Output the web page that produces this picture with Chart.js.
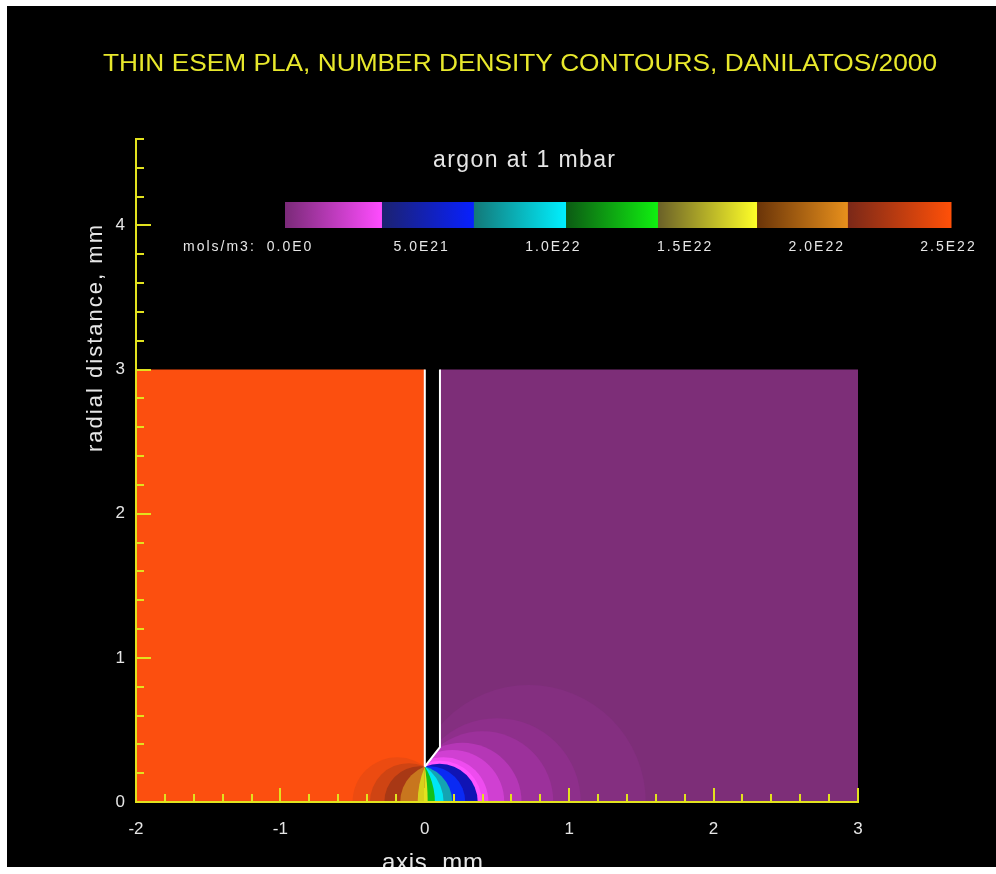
<!DOCTYPE html>
<html>

<head>
	<meta charset="UTF-8">
	<title>Thin ESEM PLA, number density contours</title>
	<script src="https://cdn.jsdelivr.net/npm/chart.js"></script>
	<style>
		body {
			margin: 0;
			background: #ffffff;
		}

		#chartContainer {
			position: absolute;
			left: 7px;
			top: 6px;
			width: 989px;
			height: 861px;
			background: #000000;
		}

		canvas {
			display: block;
		}
	</style>
</head>

<body>
	<div id="chartContainer">
		<canvas id="myChart" width="989" height="861"></canvas>
	</div>
	<script>
		// ---- texts ----
		const titleText = 'THIN ESEM PLA, NUMBER DENSITY CONTOURS, DANILATOS/2000';
		const subtitleText = 'argon at 1 mbar';
		const xTitle = 'axis, mm';
		const yTitle = 'radial distance, mm';

		// ---- axes (mm) ----
		const xMin = -2, xMax = 3;
		const yMin = 0, yMax = 4.6;

		// ---- geometry of the aperture (mm) ----
		const leftBlockX = [-2, 0];        // high pressure side
		const rightBlockX = [0.105, 3];    // low pressure side
		const blockTop = 3;
		const lipX = [0, 0.105];           // chamfer under the wall
		const lipY = [0.245, 0.38];
		const wallLeftX = [0, 0];
		const wallLeftY = [3, 0.245];
		const wallRightX = [0.105, 0.105, 0];
		const wallRightY = [3, 0.38, 0.245];

		// ---- contour arcs: centre on the axis and radius (mm), outer first ----
		const rightCx = [0.72, 0.50, 0.40, 0.26, 0.19, 0.13, 0.11, 0.102, 0.033, -0.063, -0.166, -0.394, -1.49];
		const rightR = [0.81, 0.58, 0.49, 0.41, 0.36, 0.31, 0.285, 0.2645, 0.247, 0.253, 0.296, 0.464, 1.51];
		const rightColors = ['#842f80', '#8e2f8b', '#9c319b', '#b537b6', '#d040d2', '#ee4cef', '#ff55ff',
			'#1014b4', '#0a2af4', '#14a4b2', '#00e6f4', '#12c01a', '#e4e020'];

		const leftCx = [-0.19, -0.111, -0.033, 0.0915, 0.575];
		const leftR = [0.31, 0.269, 0.247, 0.2617, 0.6244];
		const leftColors = ['#ec4b11', '#cf4413', '#a83815', '#c8761e', '#d8d01c'];

		const orange = '#fc4f0f';
		const purple = '#7d2e78';

		// ---- colour bar ----
		const cbUnit = 'mols/m3:';
		const cbTickValues = [0, 5e21, 1e22, 1.5e22, 2e22, 2.5e22];
		const cbTickLabels = ['0.0E0', '5.0E21', '1.0E22', '1.5E22', '2.0E22', '2.5E22'];
		const cbEdges = [0, 3.64e21, 7.09e21, 1.055e22, 1.40e22, 1.772e22, 2.113e22, 2.5e22];
		const cbDark = ['#7a2a78', '#1c2270', '#137878', '#0c5a14', '#6a6028', '#6a3408', '#7a2818'];
		const cbBright = ['#ff4cff', '#0820ff', '#00f0ff', '#10f010', '#ffff28', '#e8901c', '#ff5008'];

		const FONT = '"Liberation Sans", Arial, sans-serif';
		const axisYellow = '#e2e21e';
		const textWhite = '#e6e6e6';

		function pts(xs, ys) {
			return xs.map((x, i) => ({ x: x, y: ys[i] }));
		}

		// radius in mm -> pixels through the x scale
		function mmRadius(c) {
			if (!c.raw) return 0;
			const sx = c.chart.scales.x;
			const r = Math.abs(sx.getPixelForValue(c.raw.rad) - sx.getPixelForValue(0));
			return isFinite(r) ? r : 0;
		}

		function contour(cx, r, color, side) {
			return {
				type: 'scatter',
				data: [{ x: cx, y: 0, rad: r }],
				showLine: false,
				pointStyle: 'circle',
				pointRadius: mmRadius,
				pointBackgroundColor: color,
				pointBorderColor: 'transparent',
				pointBorderWidth: 0,
				clip: 0,
				side: side
			};
		}

		function area(data, color, fill) {
			return {
				type: 'line',
				data: data,
				backgroundColor: color,
				borderColor: 'transparent',
				borderWidth: 0,
				pointRadius: 0,
				fill: fill
			};
		}

		function wall(data) {
			return {
				type: 'line',
				data: data,
				borderColor: '#ffffff',
				borderWidth: 2,
				pointRadius: 0,
				fill: false
			};
		}

		// in drawing sequence
		const seq = [];
		seq.push(area(pts(leftBlockX, [blockTop, blockTop]), orange, 'origin'));
		seq.push(area(pts(rightBlockX, [blockTop, blockTop]), purple, 'origin'));
		seq.push(area(pts(lipX, lipY), purple, 'origin'));
		rightCx.forEach((cx, i) => seq.push(contour(cx, rightR[i], rightColors[i], 'right')));
		leftCx.forEach((cx, i) => seq.push(contour(cx, leftR[i], leftColors[i], 'left')));
		seq.push(area(pts(lipX, lipY), '#000000', 'end'));
		seq.push(wall(pts(wallLeftX, wallLeftY)));
		seq.push(wall(pts(wallRightX, wallRightY)));
		seq.forEach((d, i) => { d.order = seq.length - i; });

		// clip contour discs to one side of the aperture plane
		const sideClip = {
			id: 'sideClip',
			beforeDatasetDraw(chart, args) {
				const side = chart.data.datasets[args.index].side;
				if (!side) return;
				const { ctx, chartArea } = chart;
				const x0 = chart.scales.x.getPixelForValue(0);
				ctx.save();
				ctx.beginPath();
				if (side === 'right') {
					ctx.rect(x0, chartArea.top, chartArea.right - x0, chartArea.bottom - chartArea.top);
				} else {
					ctx.rect(chartArea.left, chartArea.top, x0 - chartArea.left, chartArea.bottom - chartArea.top);
				}
				ctx.clip();
			},
			afterDatasetDraw(chart, args) {
				if (chart.data.datasets[args.index].side) chart.ctx.restore();
			}
		};

		// text fitted to a given width, either by letter spacing or by squeezing
		function fitText(ctx, text, left, baseline, font, width, color, squeeze) {
			ctx.save();
			ctx.font = font;
			ctx.letterSpacing = '0px';
			const natural = ctx.measureText(text).width;
			ctx.translate(left, baseline);
			if (squeeze) {
				ctx.scale(width / natural, 1);
			} else if (width && text.length > 1) {
				ctx.letterSpacing = ((width - natural) / (text.length - 1)) + 'px';
			}
			ctx.fillStyle = color;
			ctx.textAlign = 'left';
			ctx.textBaseline = 'alphabetic';
			ctx.fillText(text, 0, 0);
			ctx.restore();
		}

		const decorations = {
			id: 'decorations',
			afterDraw(chart) {
				const ctx = chart.ctx;

				fitText(ctx, titleText, 96, 65, '24px ' + FONT, 834, '#e8e82c', true);
				fitText(ctx, subtitleText, 426, 161, '23px ' + FONT, 182, textWhite);
				fitText(ctx, xTitle, 375, 864, '24px ' + FONT, 101, textWhite);

				ctx.save();
				ctx.translate(95, 446);
				ctx.rotate(-Math.PI / 2);
				fitText(ctx, yTitle, 0, 0, '22px ' + FONT, 227, textWhite);
				ctx.restore();

				// colour bar
				const cbLeft = 278, cbRight = 944, cbTop = 196, cbBottom = 222;
				const vmax = cbTickValues[cbTickValues.length - 1];
				const px = v => cbLeft + v / vmax * (cbRight - cbLeft);
				for (let i = 0; i < cbDark.length; i++) {
					const x0 = px(cbEdges[i]), x1 = px(cbEdges[i + 1]);
					const g = ctx.createLinearGradient(x0, 0, x1, 0);
					g.addColorStop(0, cbDark[i]);
					g.addColorStop(1, cbBright[i]);
					ctx.fillStyle = g;
					ctx.fillRect(x0, cbTop, x1 - x0 + 0.5, cbBottom - cbTop);
				}

				ctx.save();
				ctx.font = '14px ' + FONT;
				ctx.letterSpacing = '2px';
				ctx.fillStyle = textWhite;
				ctx.textBaseline = 'alphabetic';
				ctx.fillText(cbUnit, 176, 245);
				const lx0 = 282, lx1 = 940.5;
				cbTickLabels.forEach((lab, i) => {
					ctx.letterSpacing = '0px';
					const w = ctx.measureText(lab).width + 2 * (lab.length - 1);
					ctx.letterSpacing = '2px';
					const cx = lx0 + cbTickValues[i] / vmax * (lx1 - lx0);
					ctx.fillText(lab, cx - w / 2, 245);
				});
				ctx.restore();
			}
		};

		const tickFont = { family: FONT, size: 17 };

		const ctx = document.getElementById('myChart').getContext('2d');
		const chart = new Chart(ctx, {
			type: 'scatter',
			data: { datasets: seq },
			options: {
				responsive: false,
				animation: false,
				events: [],
				layout: {
					padding: { left: 0, top: 133, right: 138, bottom: 0 }
				},
				plugins: {
					legend: { display: false },
					tooltip: { enabled: false },
					title: { display: false }
				},
				scales: {
					x: {
						type: 'linear',
						position: 'bottom',
						min: xMin,
						max: xMax,
						weight: 1,
						ticks: { stepSize: 1, color: textWhite, font: tickFont, padding: 31, maxRotation: 0 },
						grid: { drawOnChartArea: false, color: axisYellow, lineWidth: 2, tickLength: -14, z: 1 },
						border: { display: true, color: axisYellow, width: 2, z: 1 },
						afterFit: s => { s.height = 65; }
					},
					x2: {
						type: 'linear',
						position: 'bottom',
						min: xMin,
						max: xMax,
						weight: 0,
						ticks: { stepSize: 0.2, display: false },
						grid: { drawOnChartArea: false, color: axisYellow, lineWidth: 2, tickLength: -8, z: 1 },
						border: { display: false },
						afterFit: s => { s.height = 0; }
					},
					y: {
						type: 'linear',
						position: 'left',
						min: yMin,
						max: yMax,
						weight: 1,
						ticks: { stepSize: 1, includeBounds: false, color: textWhite, font: tickFont, padding: 26 },
						grid: { drawOnChartArea: false, color: axisYellow, lineWidth: 2, tickLength: -15, z: 1 },
						border: { display: true, color: axisYellow, width: 2, z: 1 },
						afterFit: s => { s.width = 129; }
					},
					y2: {
						type: 'linear',
						position: 'left',
						min: yMin,
						max: yMax,
						weight: 0,
						ticks: { stepSize: 0.2, display: false },
						grid: { drawOnChartArea: false, color: axisYellow, lineWidth: 2, tickLength: -8, z: 1 },
						border: { display: false },
						afterFit: s => { s.width = 0; }
					}
				}
			},
			plugins: [sideClip, decorations]
		});
	</script>
</body>

</html>
